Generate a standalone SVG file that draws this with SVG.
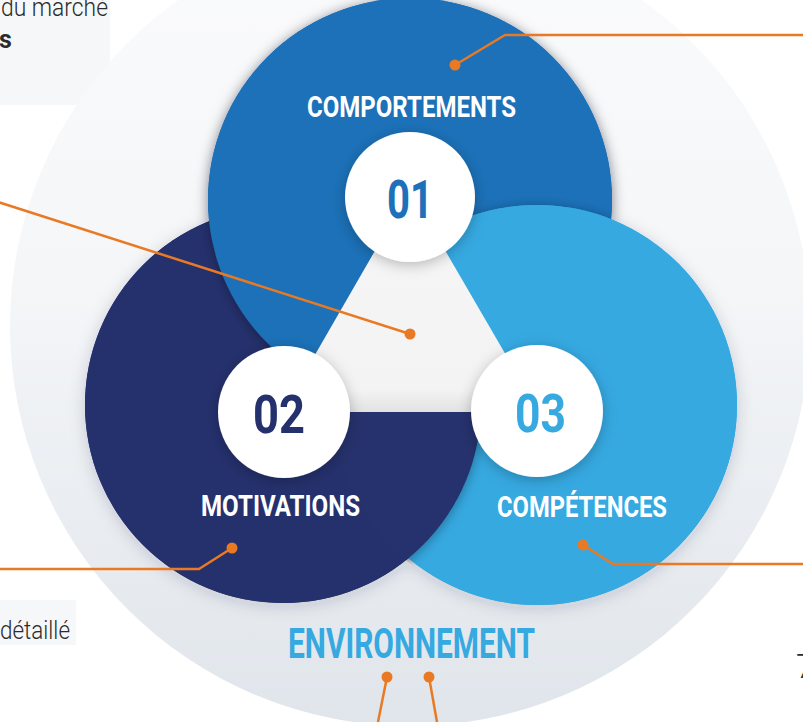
<svg xmlns="http://www.w3.org/2000/svg" width="803" height="722" viewBox="0 0 803 722">
<defs>
<style>
.lbl{font-family:"Roboto","Liberation Sans",sans-serif;font-weight:700;fill:#ffffff;font-size:30px}
.num{font-family:"Roboto","Liberation Sans",sans-serif;font-weight:700;font-size:53px}
.side{font-family:"Roboto","Liberation Sans",sans-serif;font-weight:300;fill:#2b2b2b;font-size:25px}
.wire{fill:none;stroke:#e97a23;stroke-width:2.5;stroke-linejoin:round}
.dot{fill:#e97a23}
</style>
<linearGradient id="bgGrad" x1="0" y1="0" x2="0" y2="1">
<stop offset="0" stop-color="#fbfbfc"/>
<stop offset="0.45" stop-color="#f4f6f8"/>
<stop offset="1" stop-color="#e0e5eb"/>
</linearGradient>
<linearGradient id="triGrad" x1="0" y1="0" x2="0" y2="1">
<stop offset="0" stop-color="#efefef"/>
<stop offset="0.3" stop-color="#f5f5f5"/>
<stop offset="0.9" stop-color="#f3f3f3"/>
<stop offset="1" stop-color="#e2e2e2"/>
</linearGradient>
<filter id="sh" x="-20%" y="-20%" width="140%" height="140%">
<feDropShadow dx="0" dy="2" stdDeviation="6" flood-color="#000" flood-opacity="0.35"/>
</filter>
<filter id="shSoft" x="-20%" y="-20%" width="140%" height="140%">
<feDropShadow dx="0" dy="3" stdDeviation="8" flood-color="#1a2a40" flood-opacity="0.18"/>
</filter>
<filter id="shW" x="-30%" y="-30%" width="160%" height="160%">
<feDropShadow dx="0" dy="3" stdDeviation="7" flood-color="#000" flood-opacity="0.25"/>
</filter>
<mask id="notBlue" maskUnits="userSpaceOnUse" x="0" y="0" width="803" height="722">
<rect x="0" y="0" width="803" height="722" fill="#fff"/>
<circle cx="410" cy="200" r="202" fill="#000"/>
</mask>
<clipPath id="clipLB"><circle cx="537" cy="405" r="203"/></clipPath>
<clipPath id="clipBlue"><circle cx="410" cy="200" r="202"/></clipPath>
</defs>

<g id="background">
<rect x="0" y="0" width="110" height="105" fill="#f6f7f9"/>
<rect x="0" y="600" width="76" height="45" fill="#f6f7f9"/>
<circle cx="410" cy="326" r="400" fill="url(#bgGrad)"/>
</g>

<g id="side-texts">
<text class="side" x="1" y="16" textLength="107" lengthAdjust="spacingAndGlyphs">du marché</text>
<text class="side" x="-1" y="48" style="font-weight:700">s</text>
<text class="side" x="0" y="639" textLength="70" lengthAdjust="spacingAndGlyphs">détaillé</text>
<text class="side" x="796" y="678" style="font-size:33px">7</text>
</g>

<g id="circle-shadows" filter="url(#shSoft)">
<circle cx="283" cy="405" r="198" fill="#25316d"/>
<circle cx="410" cy="200" r="202" fill="#1d71b8"/>
<circle cx="537" cy="405" r="200" fill="#36a9e1"/>
</g>

<g id="circle-motivations">
<circle cx="283" cy="405" r="198" fill="#25316d"/>
</g>
<g id="circle-comportements" filter="url(#sh)">
<circle cx="410" cy="200" r="202" fill="#1d71b8"/>
</g>
<g id="circle-competences">
<g clip-path="url(#clipBlue)"><g filter="url(#sh)"><circle cx="537" cy="405" r="200" fill="#36a9e1"/></g></g>
<circle cx="537" cy="405" r="200" fill="#36a9e1"/>
</g>
<g id="motivations-overlap" clip-path="url(#clipLB)">
<g filter="url(#sh)">
<circle cx="283" cy="405" r="198" fill="#25316d" mask="url(#notBlue)"/>
</g>
</g>

<g id="center-triangle">
<polygon points="410,190 282,412 539,412" fill="url(#triGrad)"/>
</g>

<g id="node-01">
<circle cx="410" cy="197" r="65" fill="#ffffff" filter="url(#shW)"/>
<text class="num" x="387" y="218" textLength="46" lengthAdjust="spacingAndGlyphs" fill="#1d71b8">01</text>
<text class="lbl" x="307" y="117" textLength="209" lengthAdjust="spacingAndGlyphs">COMPORTEMENTS</text>
</g>
<g id="node-02">
<circle cx="284" cy="412" r="66" fill="#ffffff" filter="url(#shW)"/>
<text class="num" x="253" y="433" textLength="52" lengthAdjust="spacingAndGlyphs" fill="#25316d">02</text>
<text class="lbl" x="201" y="516" textLength="159" lengthAdjust="spacingAndGlyphs">MOTIVATIONS</text>
</g>
<g id="node-03">
<circle cx="537" cy="411" r="66" fill="#ffffff" filter="url(#shW)"/>
<text class="num" x="515" y="432" textLength="51" lengthAdjust="spacingAndGlyphs" fill="#36a9e1">03</text>
<text class="lbl" x="497" y="517" textLength="170" lengthAdjust="spacingAndGlyphs">COMPÉTENCES</text>
</g>
<g id="node-environnement">
<text class="lbl" x="288" y="658" textLength="247" lengthAdjust="spacingAndGlyphs" style="font-size:43px;fill:#36a9e1">ENVIRONNEMENT</text>
</g>

<g id="connectors">
<polyline class="wire" points="455,65 505,35 803,35"/>
<circle class="dot" cx="455" cy="65" r="5.5"/>
<polyline class="wire" points="-5,201 410,334"/>
<circle class="dot" cx="410" cy="334" r="5.5"/>
<polyline class="wire" points="0,569 199,569 232,548"/>
<circle class="dot" cx="232" cy="548" r="5.5"/>
<polyline class="wire" points="583,545 613,564 803,564"/>
<circle class="dot" cx="583" cy="545" r="5.5"/>
<polyline class="wire" points="387,677 378,722"/>
<circle class="dot" cx="387" cy="677" r="5.5"/>
<polyline class="wire" points="429,677 437,722"/>
<circle class="dot" cx="429" cy="677" r="5.5"/>
</g>
</svg>
